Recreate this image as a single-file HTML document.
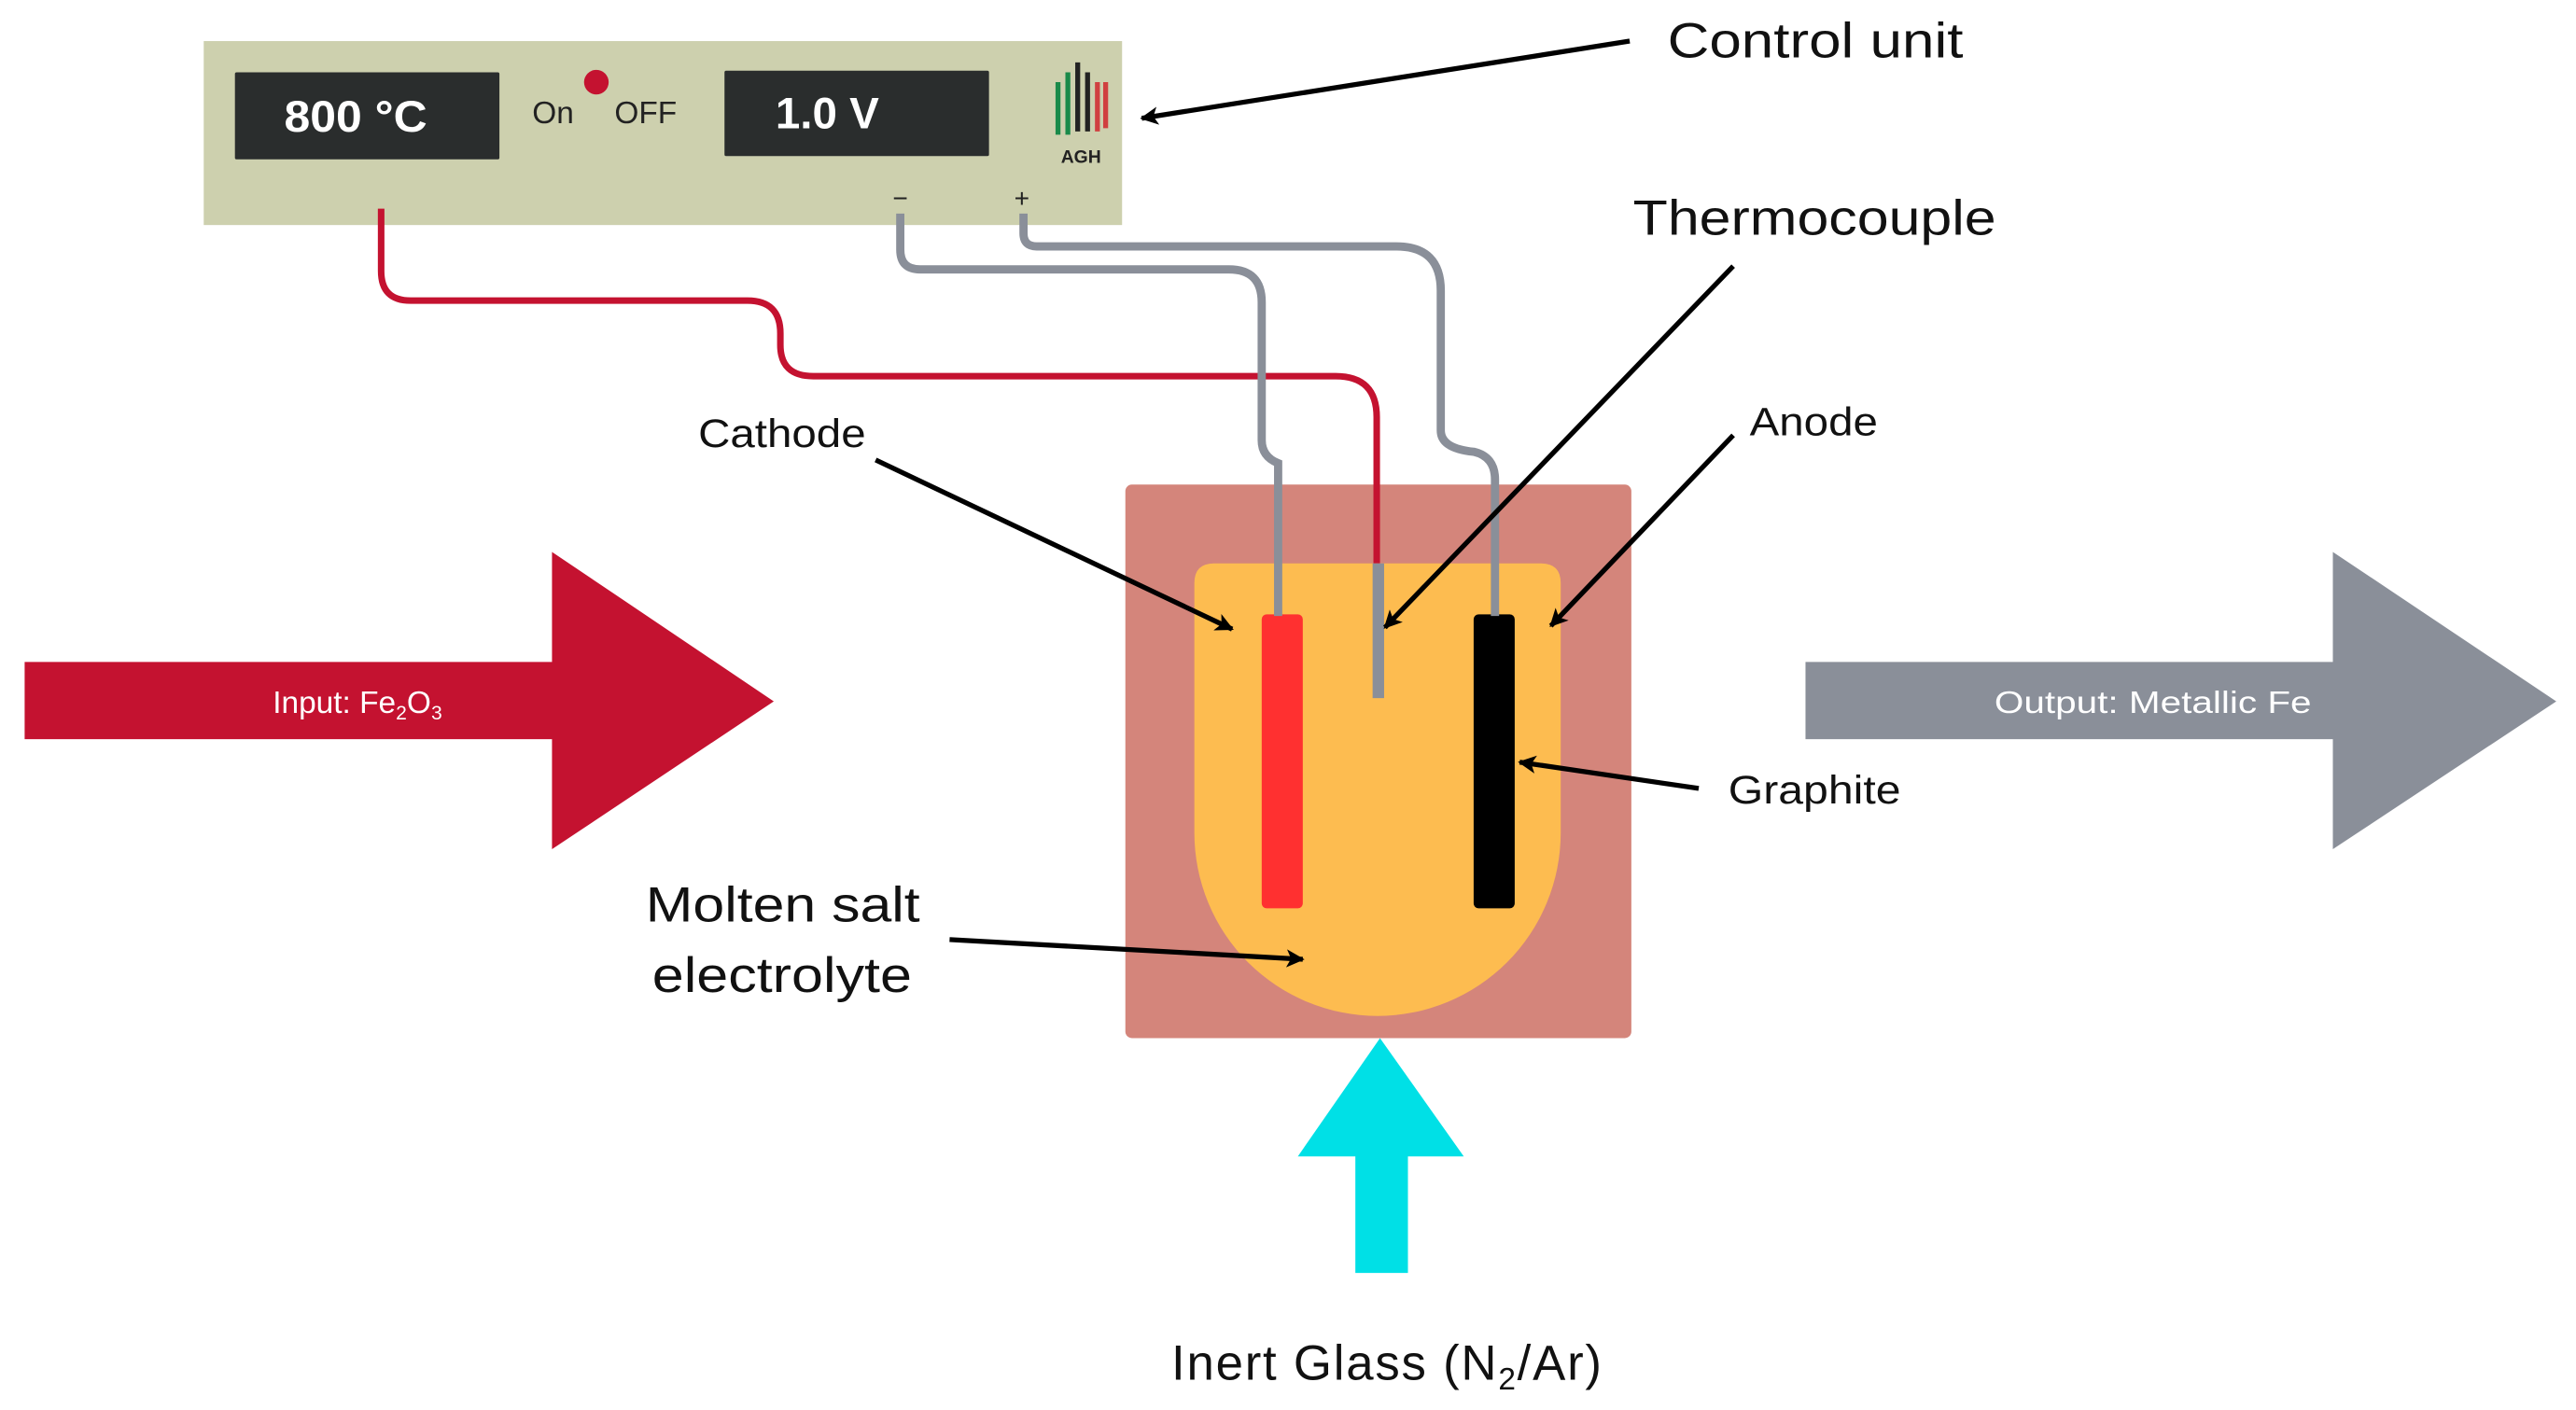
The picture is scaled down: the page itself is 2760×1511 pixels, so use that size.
<!DOCTYPE html>
<html><head><meta charset="utf-8"><style>
html,body{margin:0;padding:0;background:#fff}
svg{display:block}
text{font-family:"Liberation Sans",sans-serif}
</style></head><body>
<svg width="2760" height="1511" viewBox="0 0 1568 858.4" xmlns="http://www.w3.org/2000/svg">
<defs>
<marker id="ah" markerWidth="11" markerHeight="11" refX="9" refY="5" orient="auto" markerUnits="userSpaceOnUse" viewBox="0 0 10 10">
<path d="M0,0 L10,5 L0,10 L2.5,5 Z" fill="#000"/>
</marker>
</defs>
<rect width="1568" height="858.4" fill="#fff"/>
<!-- control unit -->
<rect x="124" y="25" width="559" height="112" fill="#cdd0ae"/>
<rect x="143" y="44" width="161" height="53" fill="#2a2d2d" rx="1"/>
<text x="173" y="80" fill="#fff" font-size="27" font-weight="bold" textLength="87" lengthAdjust="spacingAndGlyphs">800 °C</text>
<text x="324" y="75" font-size="19" fill="#222">On</text>
<circle cx="363" cy="50" r="7.5" fill="#c41230"/>
<text x="374" y="75" font-size="19" fill="#222">OFF</text>
<rect x="441" y="43" width="161" height="52" fill="#2a2d2d" rx="1"/>
<text x="472" y="78" fill="#fff" font-size="27" font-weight="bold">1.0 V</text>
<g stroke-width="3" fill="none">
<path d="M644,82 V50" stroke="#1a8a4a"/>
<path d="M650,82 V44" stroke="#1a8a4a"/>
<path d="M656,80 V38" stroke="#222"/>
<path d="M662,80 V44" stroke="#222"/>
<path d="M668,80 V50" stroke="#d04040"/>
<path d="M673,78 V50" stroke="#d04040"/>
</g>
<text x="658" y="99" font-size="11" font-weight="bold" text-anchor="middle" fill="#222">AGH</text>
<text x="548" y="126" font-size="16" text-anchor="middle" fill="#222">−</text>
<text x="622" y="126" font-size="16" text-anchor="middle" fill="#222">+</text>
<!-- crucible -->
<rect x="685" y="295" width="308" height="337" rx="4" fill="#d4857b"/>
<path d="M739,343 H938 Q950,343 950,355 V507 A111.5,111.5 0 0 1 727,507 V355 Q727,343 739,343 Z" fill="#fdbc50"/>
<rect x="768" y="374" width="25" height="179" rx="3" fill="#ff3030"/>
<rect x="897" y="374" width="25" height="179" rx="3" fill="#000"/>
<!-- wires -->
<path d="M232,127 V165 Q232,183 250,183 H455 Q475,183 475,203 V210 Q475,229 495,229 H813 Q838,229 838,254 V343" stroke="#c41230" stroke-width="4" fill="none"/>
<path d="M839,343 V425" stroke="#8a8f99" stroke-width="7" fill="none"/>
<path d="M548,130 V152 Q548,164 560,164 H748 Q768,164 768,184 V268 Q768,278 778,282 V375" stroke="#8a8f99" stroke-width="5" fill="none"/>
<path d="M623,130 V142 Q623,150 631,150 H850 Q877,150 877,177 V262 Q877,273 897,275 Q910,278 910,292 V375" stroke="#8a8f99" stroke-width="5" fill="none"/>
<!-- arrows -->
<path d="M15,403 H336 V336 L471,427 L336,517 V450 H15 Z" fill="#c41230"/>
<text x="166" y="434" font-size="19" fill="#fff">Input: Fe<tspan font-size="12" dy="4">2</tspan><tspan dy="-4">O</tspan><tspan font-size="12" dy="4">3</tspan></text>
<path d="M1099,403 H1420 V336 L1556,427 L1420,517 V450 H1099 Z" fill="#8a8f99"/>
<text x="1214" y="434" font-size="19" fill="#fff" textLength="193" lengthAdjust="spacingAndGlyphs">Output: Metallic Fe</text>
<path d="M840,632 L891,704 H857 V775 H825 V704 H790 Z" fill="#00e0e6"/>
<!-- labels -->
<g stroke="#000" stroke-width="3" fill="none" marker-end="url(#ah)">
<line x1="992" y1="25" x2="695" y2="72"/>
<line x1="1055" y1="162" x2="843" y2="382"/>
<line x1="533" y1="280" x2="750" y2="383"/>
<line x1="1055" y1="265" x2="944" y2="381"/>
<line x1="1034" y1="480" x2="925" y2="464"/>
<line x1="578" y1="572" x2="793" y2="584"/>
</g>
<g fill="#111">
<text x="1015" y="35" font-size="30" textLength="180" lengthAdjust="spacingAndGlyphs">Control unit</text>
<text x="994" y="143" font-size="30" textLength="221" lengthAdjust="spacingAndGlyphs">Thermocouple</text>
<text x="425" y="272" font-size="24" textLength="102" lengthAdjust="spacingAndGlyphs">Cathode</text>
<text x="1065" y="265" font-size="24" textLength="78" lengthAdjust="spacingAndGlyphs">Anode</text>
<text x="1052" y="489" font-size="24" textLength="105" lengthAdjust="spacingAndGlyphs">Graphite</text>
<text x="393" y="561" font-size="30" textLength="167" lengthAdjust="spacingAndGlyphs">Molten salt</text>
<text x="397" y="604" font-size="30" textLength="158" lengthAdjust="spacingAndGlyphs">electrolyte</text>
<text x="713" y="840" font-size="30" letter-spacing="1">Inert Glass (N<tspan font-size="19" dy="6">2</tspan><tspan dy="-6">/Ar)</tspan></text>
</g>
</svg>
</body></html>
